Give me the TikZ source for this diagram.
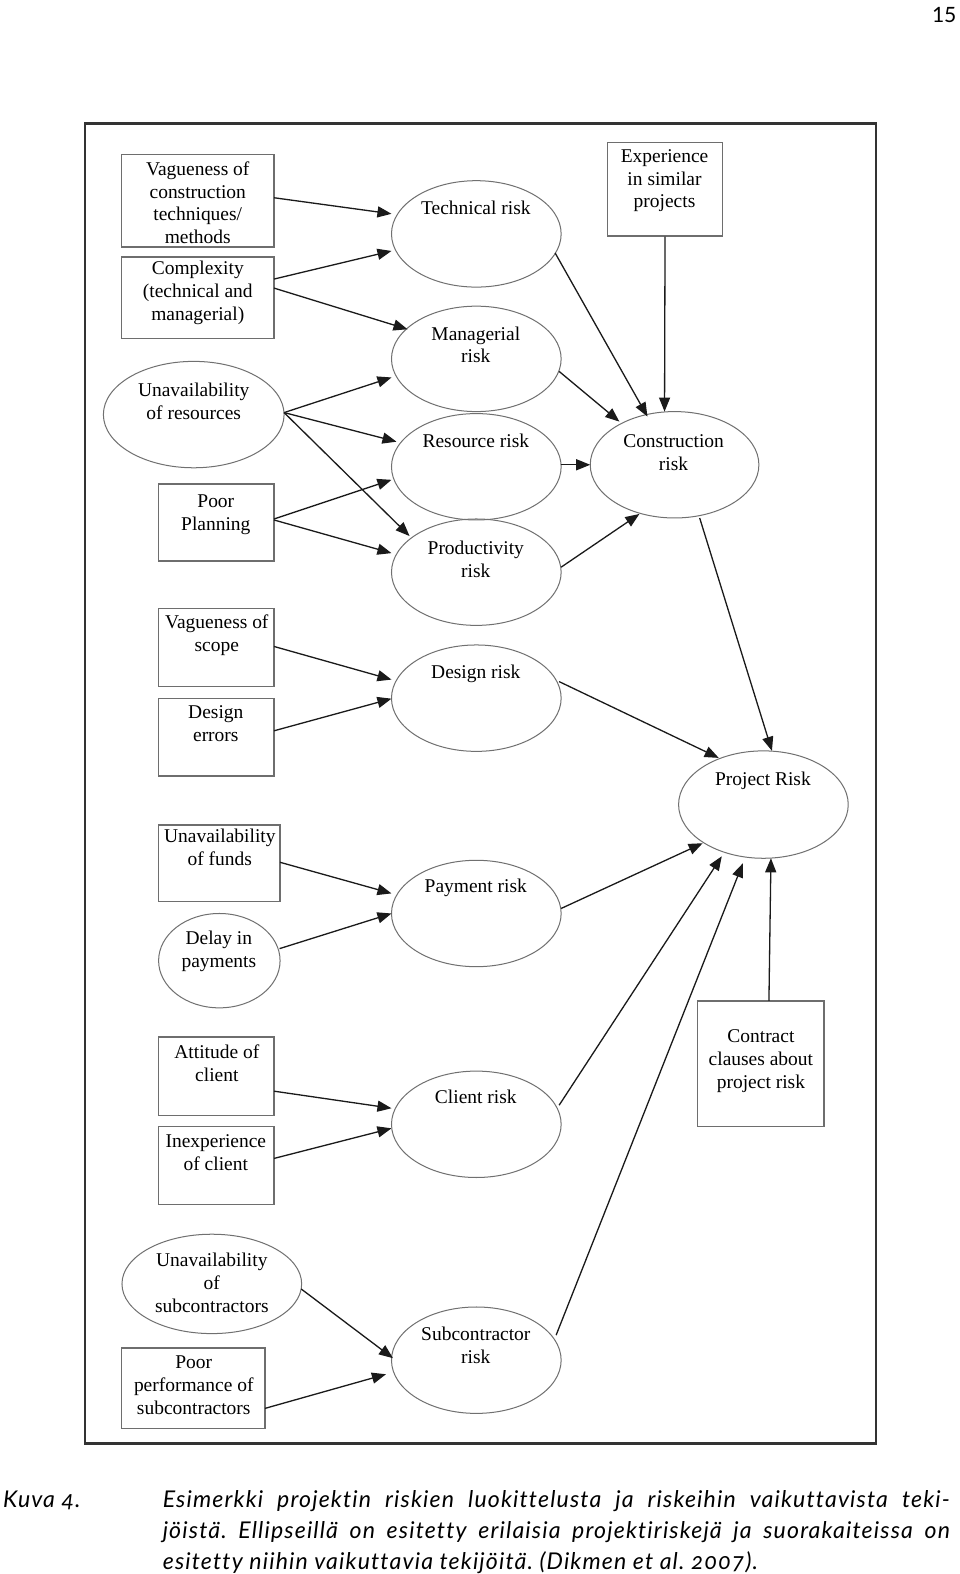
\documentclass[tikz,border=0pt]{standalone}
\usepackage{fontspec}
\setmainfont{Liberation Serif}
\newfontfamily\capfont[Numbers=OldStyle,Ligatures=NoCommon,LetterSpace=5]{Lato}
\newfontfamily\numfont{Lato}
\usetikzlibrary{shapes.geometric,arrows.meta,calc}
\definecolor{framecol}{HTML}{333333}
\definecolor{boxcol}{HTML}{6E6E6E}
\definecolor{ellcol}{HTML}{707070}
\definecolor{arrcol}{HTML}{1A1A1A}
\begin{document}
\begin{tikzpicture}[x=1pt,y=-1pt,
  boxn/.style={draw=boxcol,line width=1.4pt,rectangle,inner sep=0pt},
  elln/.style={draw=ellcol,line width=1pt,ellipse,inner sep=0pt},
  riskn/.style={elln,minimum width=169pt,minimum height=106pt},
  txt/.style={font=\fontsize{19.4}{22.8}\selectfont,align=center,inner sep=0pt},
  arr/.style={draw=arrcol,line width=1.3pt,-{Triangle[length=14pt,width=11pt]}},
  capt/.style={inner sep=0pt,font=\capfont\itshape\fontsize{23}{30.5}\selectfont}
]
\path[use as bounding box] (0,0) rectangle (956,1568);
\fill[white] (0,0) rectangle (956,1568);
\draw[framecol,line width=2.2pt] (85,123) rectangle (873,1438);

% factor boxes
\node[boxn,minimum width=152pt,minimum height=92pt] (b1) at (197,200) {};
\node[boxn,minimum width=152pt,minimum height=81pt] (b2) at (197,296.5) {};
\node[elln,minimum width=180pt,minimum height=106pt] (eres) at (193,413) {};
\node[boxn,minimum width=115pt,minimum height=77pt] (b3) at (215.5,520.5) {};
\node[boxn,minimum width=115pt,minimum height=78pt] (b4) at (215.5,645) {};
\node[boxn,minimum width=115pt,minimum height=77pt] (b5) at (215.5,734.5) {};
\node[boxn,minimum width=121pt,minimum height=76pt] (b6) at (218.5,860) {};
\node[elln,minimum width=121pt,minimum height=94pt] (edelay) at (218.5,957) {};
\node[boxn,minimum width=115pt,minimum height=78pt] (b7) at (215.5,1072) {};
\node[boxn,minimum width=115pt,minimum height=78pt] (b8) at (215.5,1161) {};
\node[elln,minimum width=179pt,minimum height=99pt] (esub) at (211,1279) {};
\node[boxn,minimum width=143pt,minimum height=80pt] (b9) at (192.5,1383) {};
\node[boxn,minimum width=115pt,minimum height=93pt] (bexp) at (662.5,188.5) {};
\node[boxn,minimum width=126pt,minimum height=125pt] (bcon) at (758,1059.5) {};

% risk ellipses
\node[riskn] (tech) at (474.5,233) {};
\node[riskn,minimum height=105pt] (man) at (474.5,357.5) {};
\node[riskn] (res) at (474.5,465) {};
\node[riskn] (prod) at (474.5,570) {};
\node[riskn] (des) at (474.5,695.5) {};
\node[riskn] (pay) at (474.5,910) {};
\node[riskn] (cli) at (474.5,1120) {};
\node[riskn] (sub) at (474.5,1355) {};
\node[riskn,minimum width=168pt] (cons) at (672,463) {};
\node[riskn,minimum height=107pt] (proj) at (760.5,801.5) {};

% texts
\node[txt] (tb1) at (197,202) {Vagueness of\\construction\\techniques/\\methods};
\node[txt] (tb2) at (197,292) {Complexity\\(technical and\\managerial)};
\node[txt] (teres) at (193,400) {Unavailability\\of resources};
\node[txt] (tb3) at (215,512.5) {Poor\\Planning};
\node[txt] (tb4) at (216,632.5) {Vagueness of\\scope};
\node[txt] (tb5) at (215,720.5) {Design\\errors};
\node[txt] (tb6) at (219,844.5) {Unavailability\\of funds};
\node[txt] (tdelay) at (218,948) {Delay in\\payments};
\node[txt] (tb7) at (216,1059.5) {Attitude of\\client};
\node[txt] (tb8) at (215,1148) {Inexperience\\of client};
\node[txt] (tesub) at (211,1278) {Unavailability\\of\\subcontractors};
\node[txt] (tb9) at (193,1380) {Poor\\performance of\\subcontractors};
\node[txt] (ttech) at (474,207) {Technical risk};
\node[txt] (tman) at (474,343.5) {Managerial\\risk};
\node[txt] (tres) at (474,439) {Resource risk};
\node[txt] (tprod) at (474,557.5) {Productivity\\risk};
\node[txt] (tdes) at (474,671) {Design risk};
\node[txt] (tpay) at (474,884) {Payment risk};
\node[txt] (tcli) at (474,1093) {Client risk};
\node[txt] (tsub) at (474,1340.5) {Subcontractor\\risk};
\node[txt] (texp) at (662,180) {Experience\\in similar\\projects};
\node[txt] (tcons) at (671,450.5) {Construction\\risk};
\node[txt] (tproj) at (760,778) {Project Risk};
\node[txt] (tcon) at (758,1057) {Contract\\clauses about\\project risk};

% connectors
\draw[arr] ($(b1)+(76,-3)$) -- ($(tech)+(-84.5,-20)$);
\draw[arr] ($(b2)+(76,-18.5)$) -- ($(tech)+(-84.5,17)$);
\draw[arr] ($(b2)+(76,-9.5)$) -- ($(man)+(-68.5,-29.5)$);
\draw[arr] ($(eres)+(90,-2)$) -- ($(man)+(-84.5,18.5)$);
\draw[arr] ($(eres)+(90,-2)$) -- ($(res)+(-79.5,-25)$);
\draw[arr] ($(eres)+(90,-2)$) -- ($(prod)+(-66.5,-36)$);
\draw[arr] ($(b3)+(57.5,-3.5)$) -- ($(res)+(-84.5,13)$);
\draw[arr] ($(b3)+(57.5,-2.5)$) -- ($(prod)+(-84.5,-19)$);
\draw[arr] ($(b4)+(57.5,-1)$) -- ($(des)+(-84.5,-18.5)$);
\draw[arr] ($(b5)+(57.5,-6.5)$) -- ($(des)+(-84.5,0.5)$);
\draw[arr] ($(b6)+(60.5,-1)$) -- ($(pay)+(-84.5,-20)$);
\draw[arr] ($(edelay)+(60,-12)$) -- ($(pay)+(-84.5,0)$);
\draw[arr] ($(b7)+(57.5,15)$) -- ($(cli)+(-84.5,-16)$);
\draw[arr] ($(b8)+(57.5,-7)$) -- ($(cli)+(-84.5,4)$);
\draw[arr] ($(esub)+(89,5)$) -- ($(sub)+(-83,-2)$);
\draw[arr] ($(b9)+(71.5,20)$) -- ($(sub)+(-90,14)$);
\draw[arr] ($(tech)+(78.5,19)$) -- ($(cons)+(-27,-48)$);
\draw[arr] ($(man)+(82.5,12.5)$) -- ($(cons)+(-55,-43)$);
\draw[arr] ($(res)+(84.5,-2)$) -- ($(cons)+(-84,0)$);
\draw[arr] ($(prod)+(84.5,-5)$) -- ($(cons)+(-35,49)$);
\draw[arr] (bexp.south) -- ($(cons)+(-10,-53)$);
\draw[arr] ($(cons)+(25,53)$) -- ($(proj)+(8.5,-53.5)$);
\draw[arr] ($(des)+(82.5,-16.5)$) -- ($(proj)+(-44.5,-46.5)$);
\draw[arr] ($(pay)+(84.5,-5)$) -- ($(proj)+(-60.5,38.5)$);
\draw[arr] ($(cli)+(82.5,-19)$) -- ($(proj)+(-41.5,51.5)$);
\draw[arr] ($(sub)+(79.5,-25)$) -- ($(proj)+(-20.5,58.5)$);
\draw[arr] ($(bcon)+(8,-62.5)$) -- ($(proj)+(7.5,53.5)$);

% caption and page number
\node[anchor=base east,inner sep=0pt,font=\numfont\fontsize{21}{21}\selectfont] (pnum) at (953,22) {15};
\node[capt,anchor=base west] (kuva) at (3,1502) {Kuva 4.};
\node[capt,anchor=base west] (cap) at (162,1502) {\parbox[t]{784pt}{\frenchspacing\tolerance=9999\hbadness=10000 Esimerkki projektin riskien luokittelusta ja riskeihin vaikuttavista teki-\linebreak jöistä. Ellipseillä on esitetty erilaisia projektiriskejä ja suorakaiteissa on\linebreak esitetty niihin vaikuttavia tekijöitä. (Dikmen et al.~2007).}};
\end{tikzpicture}
\end{document}
